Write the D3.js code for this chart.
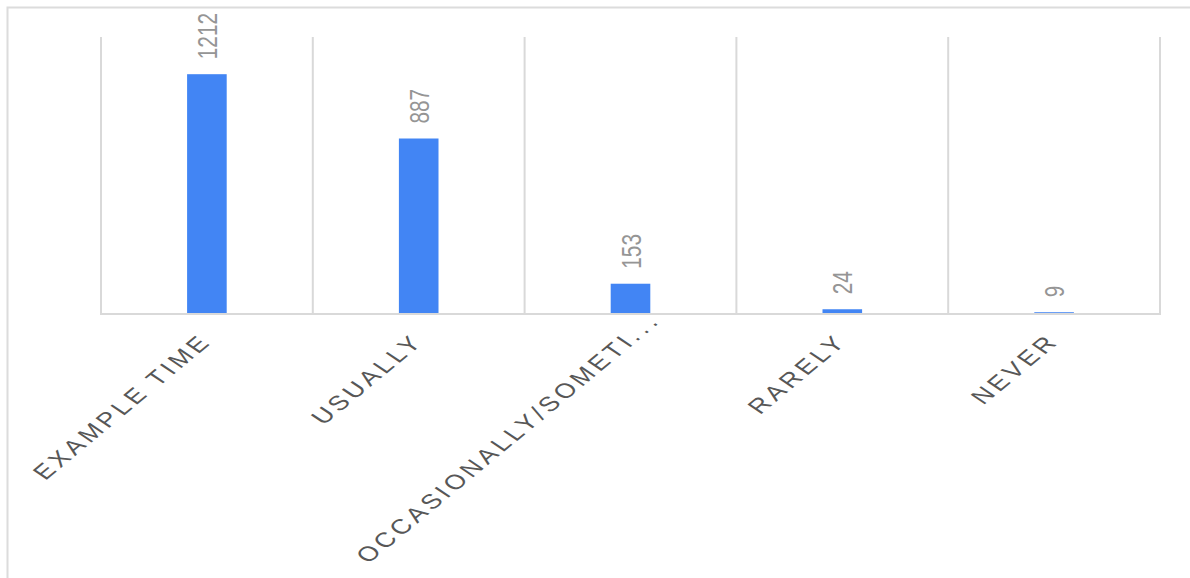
<!DOCTYPE html>
<html>
<head>
<meta charset="utf-8">
<script src="https://cdn.jsdelivr.net/npm/d3@7"></script>
<style>
  html, body { margin: 0; padding: 0; background: #fff; }
  svg { display: block; }
  text { font-family: "Liberation Sans", Arial, sans-serif; }
</style>
</head>
<body>
<div id="chart"></div>
<script>
const categories = ["EXAMPLE TIME", "USUALLY", "OCCASIONALLY/SOMETI...", "RARELY", "NEVER"];
const values = [1212, 887, 153, 24, 9];
const yDomain = [0, 1400];

const W = 1190, H = 578;
const plot = { left: 101, right: 1160, top: 37, bottom: 314 };
const SX = 1.34; // horizontal stretch of glyphs seen in the reference
const ANGLE = 48;

const svg = d3.select("#chart").append("svg")
  .attr("width", W).attr("height", H);

// outer frame
svg.append("rect")
  .attr("x", 7.5).attr("y", 7.5)
  .attr("width", W + 20).attr("height", H + 20)
  .attr("fill", "none").attr("stroke", "#dcdcdc").attr("stroke-width", 2);

const x = d3.scaleBand().domain(categories).range([plot.left, plot.right]).padding(0);
const y = d3.scaleLinear().domain(yDomain).range([plot.bottom, plot.top]);

// vertical gridlines at category boundaries
const bounds = categories.map(c => x(c)).concat([x(categories[categories.length - 1]) + x.bandwidth()]);
svg.append("g").selectAll("line").data(bounds).join("line")
  .attr("x1", d => d).attr("x2", d => d)
  .attr("y1", y(yDomain[1])).attr("y2", y(0))
  .attr("stroke", "#d9d9d9").attr("stroke-width", 2);

// baseline
svg.append("line")
  .attr("x1", plot.left - 1).attr("x2", plot.right + 1)
  .attr("y1", y(0)).attr("y2", y(0))
  .attr("stroke", "#d9d9d9").attr("stroke-width", 2);

const barW = x.bandwidth() * 0.187;
const data = categories.map((c, i) => ({ c, v: values[i] }));

svg.append("g").selectAll("rect").data(data).join("rect")
  .attr("x", d => x(d.c) + x.bandwidth() / 2 - barW / 2)
  .attr("y", d => y(d.v))
  .attr("width", barW)
  .attr("height", d => y(0) - y(d.v) - 1)
  .attr("fill", "#4285f4");

// value labels (rotated)
svg.append("g").selectAll("text").data(data).join("text")
  .attr("transform", d => `translate(${x(d.c) + x.bandwidth() / 2 + 10},${y(d.v) - 15}) scale(${SX},1) rotate(-90)`)
  .attr("text-anchor", "start")
  .attr("font-size", 20.8)
  .attr("fill", "#959595")
  .text(d => d.v);

// category labels (slanted); an ellipsis hangs past the anchor
const catT = d => `translate(${x(d) + x.bandwidth() / 2 + 6},${342}) scale(${SX},1) rotate(-${ANGLE})`;
const gCat = svg.append("g").attr("fill", "#575757").attr("font-size", 20.5);
gCat.selectAll("text.main").data(categories).join("text")
  .attr("class", "main")
  .attr("transform", catT)
  .attr("text-anchor", "end")
  .attr("letter-spacing", 3)
  .text(d => d.replace(/\.\.\.$/, ""));
gCat.selectAll("text.ell").data(categories.filter(d => /\.\.\.$/.test(d))).join("text")
  .attr("class", "ell")
  .attr("transform", catT)
  .attr("text-anchor", "start")
  .attr("letter-spacing", 4)
  .text("...");
</script>
</body>
</html>
